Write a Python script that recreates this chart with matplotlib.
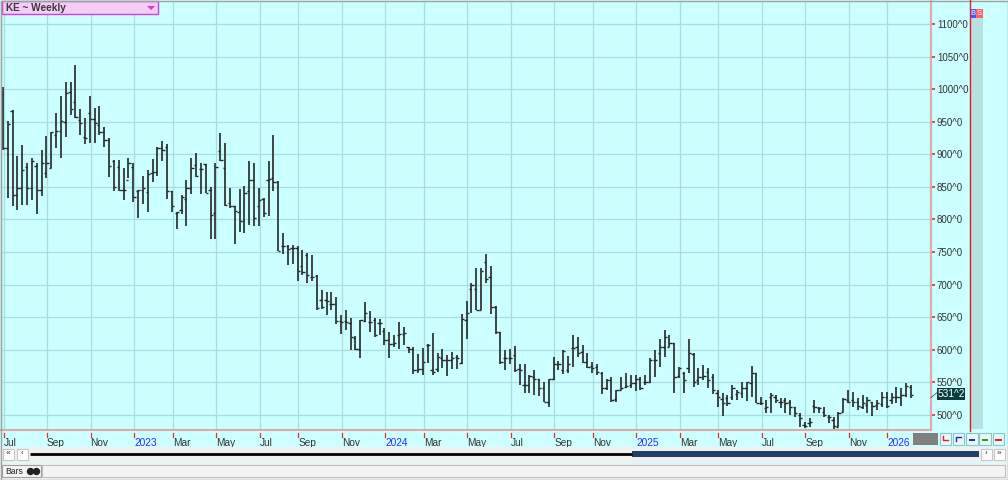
import numpy as np
import pandas as pd
import matplotlib
matplotlib.use("Agg")
import matplotlib.pyplot as plt
import matplotlib.dates as mdates
from matplotlib.patches import Rectangle, Polygon

plt.rcParams["font.family"] = ["Liberation Sans", "DejaVu Sans"]

# ---------------- data (weekly OHLC, KE futures) ----------------
start_week = "2022-07-01"
opens = [992, 910, 967, 838, 849, 880, 849, 882, 845, 871, 879, 930, 936, 950, 995, 980, 953, 926, 963, 954,
         945, 935, 922, 890, 880, 845, 860, 880, 844, 845, 842, 871, 873, 910, 912, 843, 810, 814, 831, 848,
         884, 877, 885, 846, 810, 905, 879, 825, 820, 812, 798, 843, 860, 821, 831, 861, 863, 858, 760, 759,
         756, 757, 728, 746, 712, 714, 676, 676, 670, 670, 644, 645, 641, 618, 602, 645, 643, 646, 641, 629,
         615, 609, 623, 625, 604, 602, 569, 570, 607, 569, 570, 588, 585, 584, 589, 580, 646, 693, 693, 661,
         735, 712, 665, 628, 587, 588, 592, 570, 546, 546, 559, 556, 541, 520, 555, 579, 569, 569, 603, 605,
         597, 582, 575, 573, 565, 542, 554, 524, 539, 543, 546, 549, 555, 550, 551, 584, 595, 605, 605, 610,
         560, 564, 572, 594, 554, 559, 566, 558, 533, 524, 526, 528, 532, 533, 542, 549, 564, 518, 510, 528,
         528, 520, 523, 520, 512, 500, 485, 487, 514, 510, 505, 497, 492, 482, 504, 523, 523, 520, 513, 515,
         520, 515, 517, 528, 523, 528, 528, 531, 543]
highs = [1004, 951, 968, 897, 915, 886, 894, 886, 907, 928, 935, 963, 990, 1011, 1011, 1037, 969, 955, 990, 971,
         974, 942, 925, 891, 891, 879, 894, 887, 845, 866, 876, 893, 912, 921, 916, 844, 812, 838, 861, 895,
         902, 886, 885, 850, 887, 932, 918, 849, 820, 847, 852, 890, 887, 848, 833, 890, 930, 859, 779, 761,
         761, 759, 753, 748, 746, 715, 692, 689, 688, 681, 653, 661, 649, 621, 646, 673, 659, 649, 648, 633,
         628, 623, 642, 635, 605, 605, 594, 603, 609, 626, 595, 601, 592, 597, 592, 655, 675, 702, 725, 725,
         747, 729, 667, 628, 600, 602, 606, 579, 578, 562, 569, 556, 550, 556, 589, 583, 600, 591, 623, 620,
         607, 595, 582, 579, 566, 556, 558, 538, 558, 565, 561, 561, 559, 561, 587, 600, 616, 630, 623, 610,
         574, 566, 616, 595, 572, 577, 572, 563, 538, 533, 531, 546, 539, 551, 551, 575, 565, 528, 523, 533,
         531, 526, 526, 523, 513, 503, 490, 495, 523, 513, 513, 500, 497, 505, 526, 539, 536, 526, 531, 528,
         520, 523, 536, 536, 533, 543, 542, 549, 546]
lows = [907, 833, 820, 815, 822, 822, 830, 808, 836, 863, 879, 909, 895, 926, 960, 955, 930, 916, 917, 917,
        930, 911, 865, 844, 844, 830, 863, 827, 803, 824, 812, 858, 867, 889, 831, 812, 785, 808, 790, 839,
        865, 839, 840, 770, 770, 890, 821, 817, 763, 781, 779, 792, 790, 790, 804, 806, 843, 751, 747, 730,
        732, 705, 715, 703, 705, 661, 663, 653, 661, 640, 625, 630, 600, 600, 587, 643, 627, 620, 623, 607,
        587, 605, 601, 607, 595, 563, 565, 561, 580, 561, 566, 572, 560, 571, 571, 579, 616, 656, 661, 661,
        703, 655, 625, 579, 569, 579, 566, 546, 534, 534, 531, 529, 520, 512, 554, 569, 563, 564, 573, 589,
        580, 572, 564, 561, 532, 539, 520, 520, 539, 542, 541, 537, 538, 546, 549, 558, 574, 589, 604, 533,
        557, 534, 564, 543, 546, 554, 542, 532, 512, 498, 514, 523, 523, 526, 522, 528, 518, 515, 503, 503,
        518, 510, 503, 500, 497, 481, 480, 482, 503, 503, 497, 488, 478, 481, 504, 518, 513, 508, 509, 503,
        498, 508, 513, 510, 517, 518, 514, 527, 526]
closes = [910, 947, 838, 849, 876, 849, 889, 845, 886, 887, 934, 936, 951, 994, 969, 957, 948, 925, 954, 948,
          935, 922, 882, 850, 845, 845, 886, 835, 845, 848, 870, 873, 910, 907, 843, 821, 811, 835, 848, 879,
          866, 877, 841, 807, 881, 891, 822, 820, 813, 798, 841, 860, 802, 830, 810, 862, 858, 752, 759, 754,
          756, 721, 720, 715, 712, 664, 665, 675, 670, 644, 643, 642, 620, 602, 646, 656, 643, 622, 641, 615,
          609, 610, 625, 626, 602, 569, 570, 582, 607, 566, 589, 585, 584, 588, 587, 647, 656, 700, 661, 721,
          708, 665, 628, 582, 587, 587, 569, 569, 546, 560, 556, 541, 520, 555, 579, 578, 598, 578, 603, 595,
          582, 574, 572, 566, 542, 554, 523, 538, 542, 545, 549, 556, 542, 551, 584, 584, 605, 620, 610, 559,
          572, 554, 595, 551, 558, 560, 554, 538, 528, 518, 518, 541, 536, 542, 550, 564, 519, 518, 512, 531,
          523, 520, 518, 513, 503, 495, 483, 490, 513, 510, 500, 497, 483, 503, 524, 520, 520, 514, 518, 523,
          514, 518, 528, 514, 528, 528, 531, 545, 531.25]

price_ticks = [500, 550, 600, 650, 700, 750, 800, 850, 900, 950, 1000, 1050, 1100]
last_label = "531^2"
title_text = "KE ~ Weekly"

# ---------------- figure geometry (pixels) ----------------
W, H = 1008, 480
fig = plt.figure(figsize=(W / 100, H / 100), dpi=100, facecolor="#ccffff")

def fx(px):
    return px / W

def fy(py):
    return 1 - py / H

ax_l, ax_r, ax_t, ax_b = 1, 930.5, 1, 430
ax = fig.add_axes([fx(ax_l), fy(ax_b), (ax_r - ax_l) / W, (ax_b - ax_t) / H])
ax.set_facecolor("#ccffff")

dates = pd.date_range(start_week, periods=len(closes), freq="W-FRI")
xd = mdates.date2num(dates.to_pydatetime())
base = xd[0]
x0_px = 2.9
px_per_day = 4.83 / 7
ax.set_xlim(base - (x0_px - ax_l) / px_per_day, base + (ax_r - x0_px) / px_per_day)
ax.set_ylim(500 - (ax_b - 415) * 1.5345, 500 + (415 - ax_t) * 1.5345)

def to_px(d):
    return x0_px + (d - base) * px_per_day

# grid: horizontal every 50, vertical at the first bar of every other month
for p in price_ticks:
    ax.axhline(p, color="#a9dede", lw=0.9, zorder=0)
ser = pd.Series(xd, index=dates)
first_bars = ser.groupby([dates.year, dates.month]).first()
grid_x, grid_lab, grid_col = [], [], []
for (yr, mo), v in first_bars.items():
    if mo % 2 == 1:
        grid_x.append(v + 1.0)
        if mo == 1:
            grid_lab.append(str(yr))
            grid_col.append("#2b2bff")
        else:
            grid_lab.append(pd.Timestamp(yr, mo, 1).strftime("%b"))
            grid_col.append("#333333")
for g in grid_x:
    ax.axvline(g, color="#a9dede", lw=0.9, zorder=0)

# OHLC bars
w = 3.3
bar_c = "#262626"
ax.vlines(xd, lows, highs, color=bar_c, lw=1.2, zorder=3)
ax.hlines(opens, xd - w, xd, color=bar_c, lw=1.0, zorder=3)
ax.hlines(closes, xd, xd + w, color=bar_c, lw=1.0, zorder=3)

# x tick labels
ax.set_xticks(grid_x)
ax.set_xticklabels(grid_lab, fontsize=7.3)
for t, c in zip(ax.get_xticklabels(), grid_col):
    t.set_color(c)
    t.set_ha("left")
ax.tick_params(axis="x", length=0, pad=5.6)

# y axis on right
ax.yaxis.tick_right()
ax.set_yticks(price_ticks)
ax.set_yticklabels([f"{p}^0" for p in price_ticks], fontsize=7, color="#333333")
ax.tick_params(axis="y", length=2.6, color="#e03030", pad=2.0, width=1.2)

ax.spines["top"].set_visible(False)
ax.spines["left"].set_color("#a0a0a0")
ax.spines["right"].set_color("#e0a8a8")
ax.spines["right"].set_linewidth(1.5)
ax.spines["bottom"].set_color("#e0a8a8")
ax.spines["bottom"].set_linewidth(1.5)

# ---------------- overlay for chrome ----------------
ov = fig.add_axes([0, 0, 1, 1], zorder=10)
ov.set_xlim(0, W)
ov.set_ylim(H, 0)
ov.axis("off")
ov.patch.set_visible(False)

# red x ticks under the axis line
for g in grid_x:
    gp = to_px(g)
    ov.plot([gp, gp], [432.5, 436.5], color="#e03030", lw=0.9)

# title box
ov.add_patch(Rectangle((2, 1), 156, 13, facecolor="#f5ccf5", edgecolor="#cc44cc", lw=1.0))
ov.text(6, 8, title_text, fontsize=7.2, fontweight="bold", color="#3a3a3a", va="center", ha="left")
ov.add_patch(Polygon([[147, 6], [155, 6], [151, 10]], closed=True, facecolor="#dd33dd", edgecolor="none"))

# last price label
last_y = 415 - (closes[-1] - 500) * 0.6517
ov.plot([931, 937], [last_y + 3, last_y - 2], color="#555555", lw=0.6)
ov.add_patch(Rectangle((936.7, last_y - 7), 28, 12, facecolor="#0a3d3d", edgecolor="none"))
ov.text(938, last_y - 1, last_label, fontsize=7.3, color="white", va="center", ha="left")

# right panel
ov.plot([969.5, 969.5], [0, 431], color="#e02020", lw=1.0)
ov.add_patch(Rectangle((970, 18), 13, 411, facecolor="#b8e2e2", edgecolor="none"))
ov.add_patch(Rectangle((970, 9), 5.5, 9, facecolor="#5050ff", edgecolor="none"))
ov.add_patch(Rectangle((975.5, 9), 7, 9, facecolor="#ff6060", edgecolor="none"))
ov.text(972.7, 13.5, "B", fontsize=5.5, color="white", ha="center", va="center")
ov.text(979, 13.5, "S", fontsize=5.5, color="white", ha="center", va="center")

# bottom-right boxes
ov.add_patch(Rectangle((913, 433), 24.5, 12, facecolor="#808080", edgecolor="none"))
btn_cols = ["#e02020", "#2020e0", "#2020e0", "#20a020", "#e02020"]
for k, c in enumerate(btn_cols):
    xb = 939.5 + k * 13.3
    ov.add_patch(Rectangle((xb, 433), 11.5, 12, facecolor="#e8f8f8", edgecolor="#88c8c8", lw=0.8))
    if k == 0:
        ov.plot([xb + 3.5, xb + 3.5, xb + 8], [436, 440, 440], color=c, lw=1.0)
    elif k == 1:
        ov.plot([xb + 3.5, xb + 3.5, xb + 8], [441, 437, 437], color=c, lw=1.0)
    else:
        ov.plot([xb + 3.5, xb + 8], [439.5, 439.5], color=c, lw=1.4)

# scrollbar row
ov.add_patch(Rectangle((0, 447), W, 15, facecolor="#f0f0f0", edgecolor="none"))
for xb, s in [(3, "\u00ab"), (17, "\u2039"), (981, "\u203a"), (994, "\u00bb")]:
    ov.add_patch(Rectangle((xb, 449), 10.5, 10.5, facecolor="white", edgecolor="#c8c8c8", lw=0.8))
    ov.text(xb + 5.25, 454, s, fontsize=6, color="#333333", ha="center", va="center")
ov.plot([29.5, 632], [454, 454], color="black", lw=2.0, solid_capstyle="butt")
ov.add_patch(Rectangle((632, 450.5), 347, 6.5, facecolor="#1f3f66", edgecolor="none"))

# status row
ov.add_patch(Rectangle((0, 463), W, 17, facecolor="#f0f0f0", edgecolor="none"))
ov.add_patch(Rectangle((1.5, 464.5), 39.5, 12.5, facecolor="#f4f4f4", edgecolor="#a0a0a0", lw=0.8))
ov.add_patch(Rectangle((42, 464.5), 963, 12.5, facecolor="#f4f4f4", edgecolor="#c0c0c0", lw=0.8))
ov.text(5.5, 471, "Bars", fontsize=6.2, color="#222222", va="center", ha="left")
ov.plot([29.5, 35.5], [470.8, 470.8], "o", ms=4.3, color="#222222")
ov.add_patch(Rectangle((0.5, 0.5), W - 1, H - 1, facecolor="none", edgecolor="#a0a0a0", lw=1.0))

fig.savefig("out.png", dpi=100, facecolor=fig.get_facecolor())
